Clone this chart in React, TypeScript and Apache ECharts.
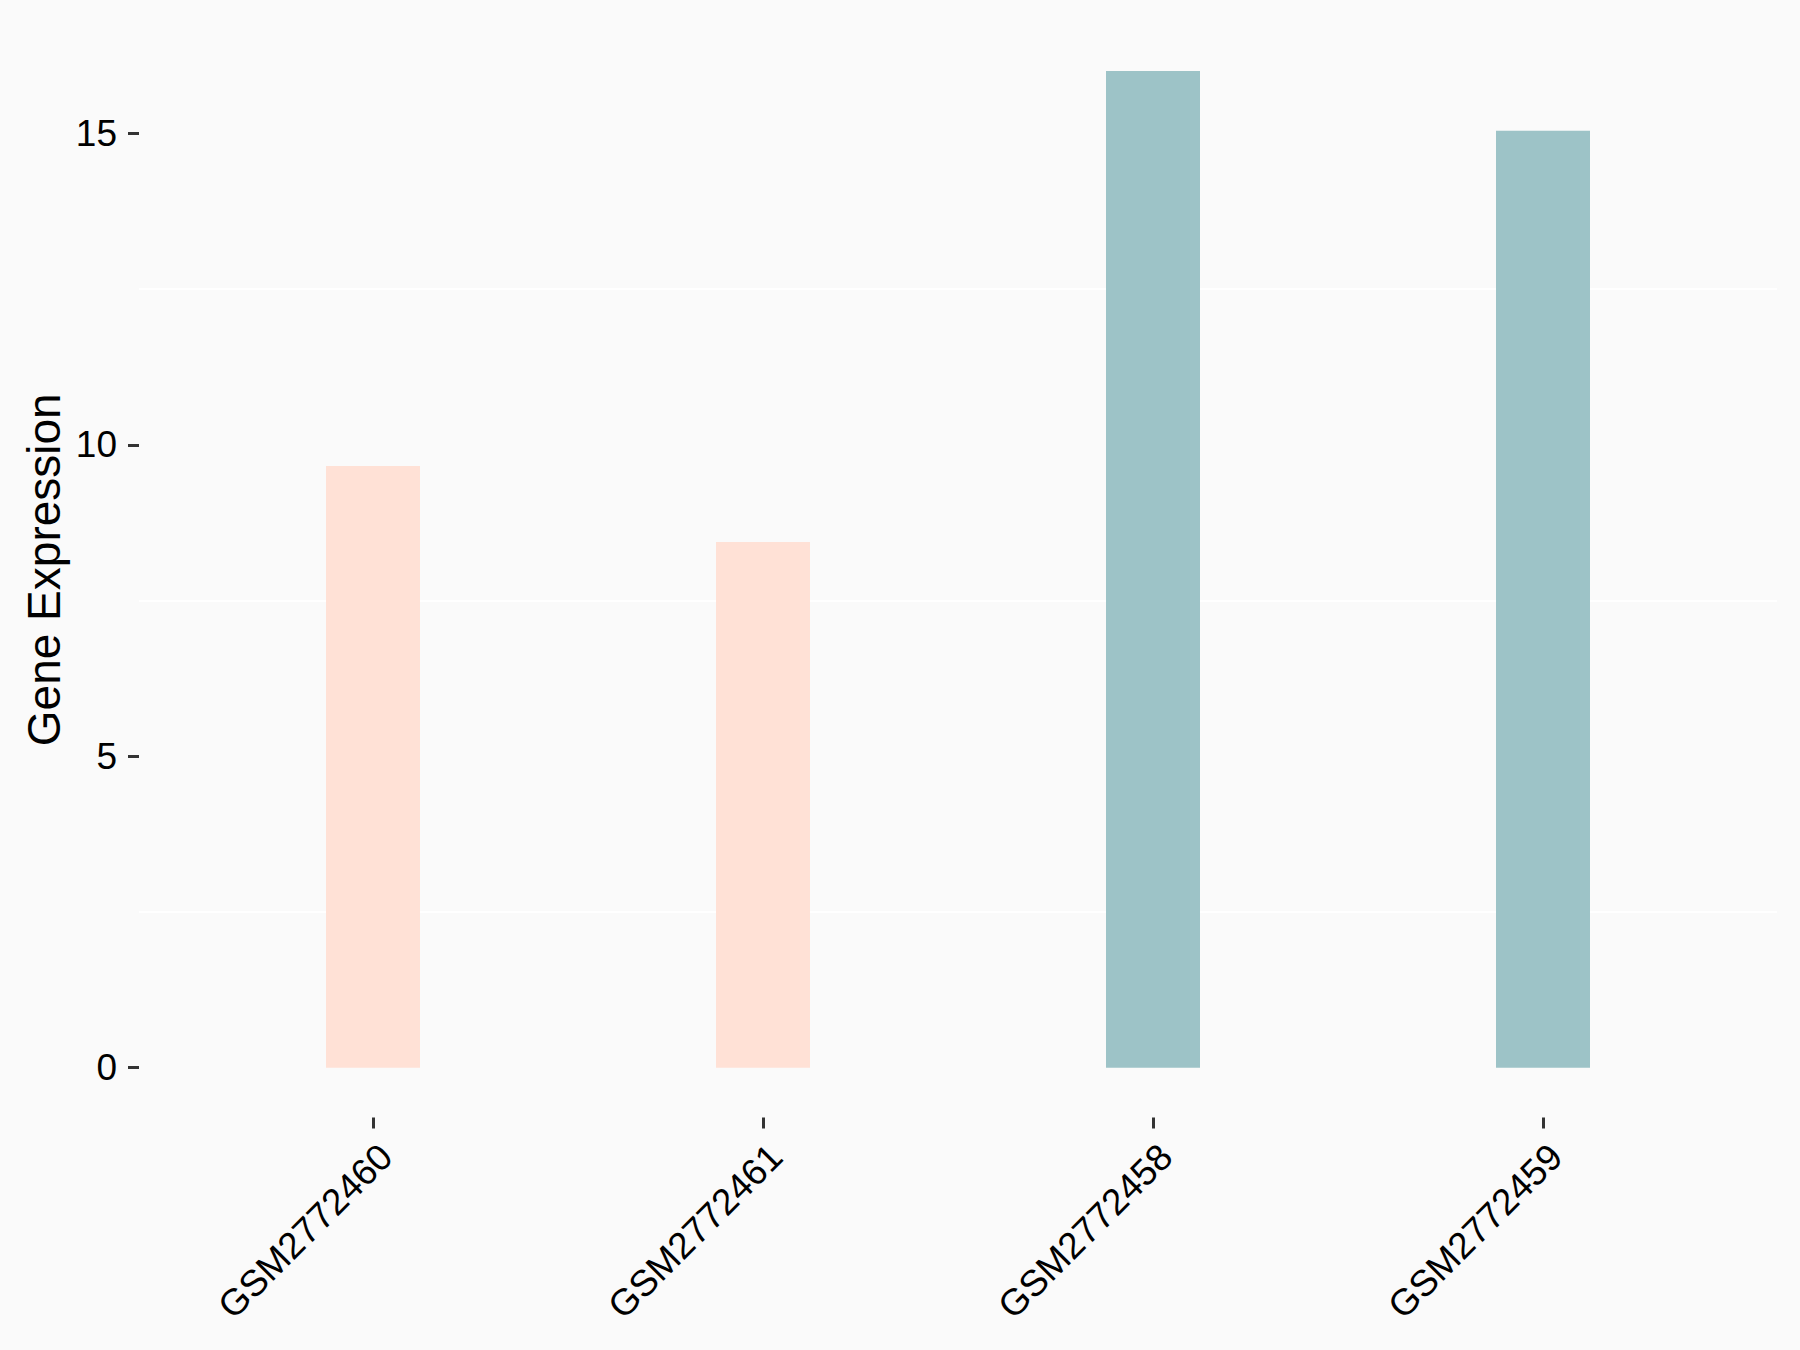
import React, { useEffect, useRef } from "react";
import * as echarts from "echarts";

const categories = ["GSM2772460", "GSM2772461", "GSM2772458", "GSM2772459"];
const values = [9.66, 8.44, 16.0, 15.04];
const barColors = ["#FFE1D6", "#FFE1D6", "#9DC3C7", "#9DC3C7"];
const yTicks = { min: 0, max: 15, interval: 5 };
const yTitle = "Gene Expression";

export default function App() {
  const ref = useRef<HTMLDivElement>(null);
  useEffect(() => {
    if (!ref.current) return;
    const chart = echarts.init(ref.current, undefined, { renderer: "svg" });
    const font = "Liberation Sans, Arial, sans-serif";
    const plotBottom = 1350 - 1067.7;
    chart.setOption({
      animation: false,
      backgroundColor: "#FAFAFA",
      grid: [
        { left: 139, right: 23, top: 133.3, bottom: plotBottom },
        { left: 178, right: 62, top: 133.3, bottom: 1350 - 1117.5 },
        { left: 139, right: 23, top: 22, bottom: 1350 - 1117.5 },
      ],
      xAxis: [
        { type: "value", gridIndex: 0, show: false, min: 0, max: 1 },
        {
          type: "category",
          gridIndex: 1,
          data: categories,
          axisLine: { show: false, onZero: false },
          axisTick: {
            show: true,
            alignWithLabel: true,
            length: 11,
            lineStyle: { color: "#333333", width: 3 },
          },
          axisLabel: {
            interval: 0,
            rotate: 45,
            fontSize: 37,
            fontFamily: font,
            color: "#000000",
            margin: 20,
            align: "right",
            verticalAlign: "top",
          },
          splitLine: { show: false },
        },
        { type: "value", gridIndex: 2, show: false, min: 0, max: 1 },
      ],
      yAxis: [
        {
          type: "value",
          gridIndex: 0,
          min: yTicks.min,
          max: yTicks.max,
          interval: yTicks.interval,
          axisLine: { show: false },
          axisTick: { show: true, length: 11, lineStyle: { color: "#333333", width: 3 } },
          axisLabel: { fontSize: 37, fontFamily: font, color: "#000000", margin: 22 },
          splitLine: { show: false },
          minorTick: { show: false, splitNumber: 2 },
          minorSplitLine: { show: true, lineStyle: { color: "#FFFFFF", width: 2 } },
        },
        {
          type: "value",
          gridIndex: 1,
          min: -0.8,
          max: 15,
          show: false,
        },
        {
          type: "value",
          gridIndex: 2,
          min: 0,
          max: 1,
          axisLine: { show: false },
          axisTick: { show: false },
          axisLabel: { show: false },
          splitLine: { show: false },
          name: yTitle,
          nameLocation: "middle",
          nameRotate: 90,
          nameGap: 72,
          nameTextStyle: { fontSize: 46, fontFamily: font, color: "#000000" },
        },
      ],
      series: [
        {
          type: "bar",
          xAxisIndex: 1,
          yAxisIndex: 1,
          clip: false,
          barWidth: 94,
          data: values.map((v, i) => ({ value: v, itemStyle: { color: barColors[i] } })),
        },
      ],
    });
    return () => chart.dispose();
  }, []);
  return (
    <div
      ref={ref}
      style={{ position: "absolute", left: 0, top: 0, width: 1800, height: 1350 }}
    />
  );
}
